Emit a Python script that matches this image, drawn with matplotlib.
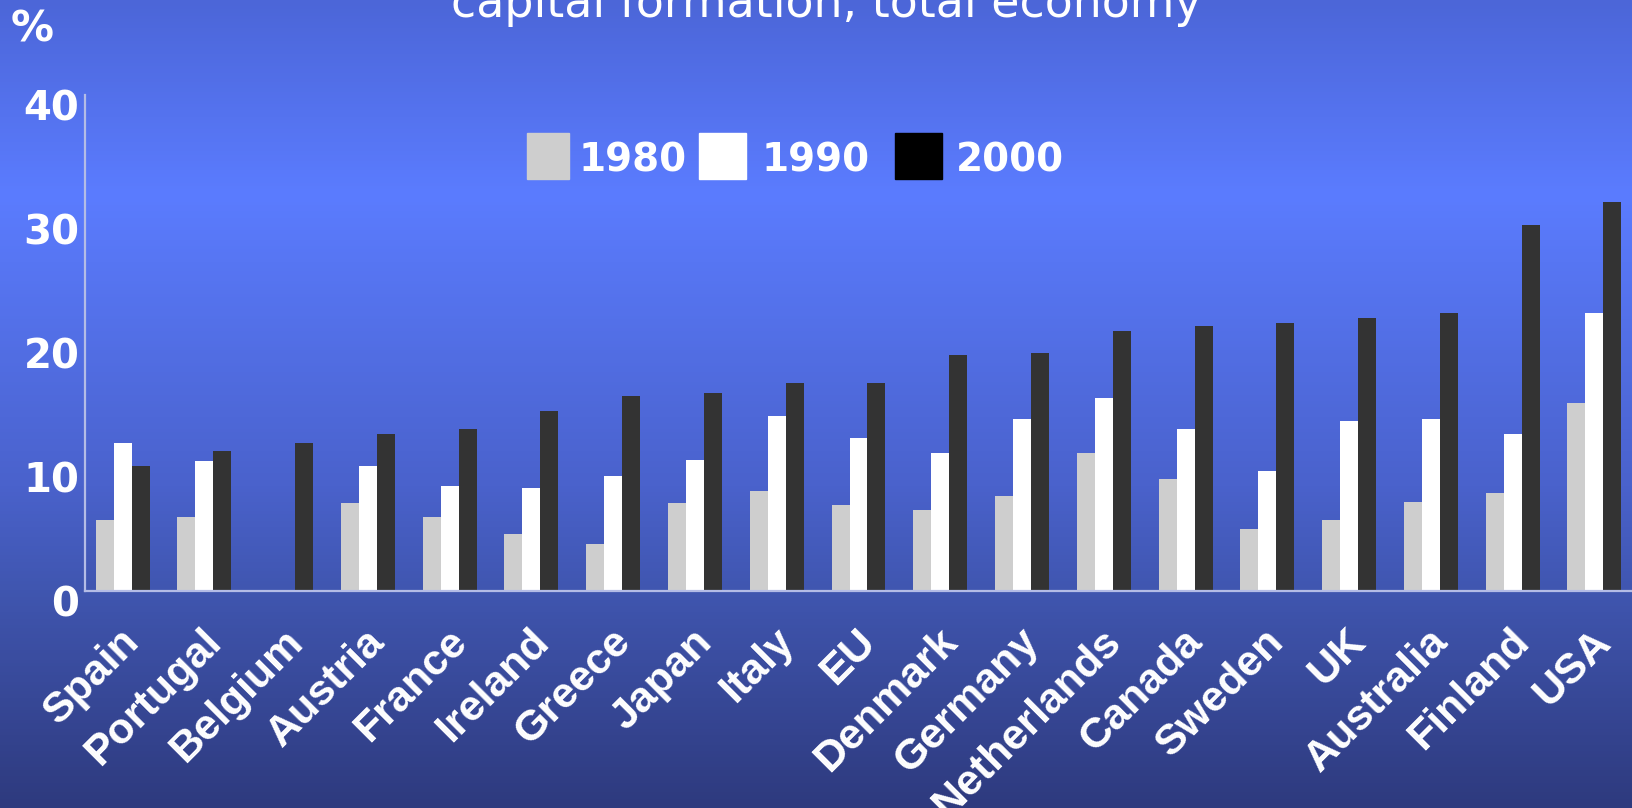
import numpy as np
import matplotlib
matplotlib.use("Agg")
from matplotlib import pyplot as plt
from matplotlib import font_manager
from matplotlib import transforms
from matplotlib.colors import LinearSegmentedColormap
from matplotlib.patches import Rectangle

countries = ["Spain", "Portugal", "Belgium", "Austria", "France", "Ireland",
             "Greece", "Japan", "Italy", "EU", "Denmark", "Germany",
             "Netherlands", "Canada", "Sweden", "UK", "Australia", "Finland", "USA"]
share_1980 = [5.7, 6.0, np.nan, 7.1, 6.0, 4.6, 3.8, 7.1, 8.1, 6.9, 6.5, 7.7,
              11.1, 9.0, 5.0, 5.7, 7.2, 7.9, 15.2]
share_1990 = [11.9, 10.5, np.nan, 10.1, 8.5, 8.3, 9.3, 10.6, 14.1, 12.3, 11.1, 13.9,
              15.6, 13.1, 9.7, 13.7, 13.9, 12.7, 22.4]
share_2000 = [10.1, 11.3, 11.9, 12.7, 13.1, 14.5, 15.7, 16.0, 16.8, 16.8, 19.0, 19.2,
              21.0, 21.4, 21.6, 22.0, 22.4, 29.5, 31.4]
years = ["1980", "1990", "2000"]
y_ticks = [0, 10, 20, 30, 40]
title = "capital formation, total economy"


def pick_font(names, fallback="DejaVu Sans"):
    installed = {f.name for f in font_manager.fontManager.ttflist}
    for n in names:
        if n in installed:
            return n
    return fallback


arial = pick_font(["Liberation Sans", "Arimo"])

W, H = 1632, 808
fig = plt.figure(figsize=(W / 100, H / 100), dpi=100)

# background gradient
bg = fig.add_axes([0, 0, 1, 1])
bg_cmap = LinearSegmentedColormap.from_list(
    "bg", [(0.0, "#4c66d8"), (0.24, "#5b7cff"), (0.6, "#4a62cc"),
           (0.73, "#4056b0"), (1.0, "#2e3a7e")])
grad = np.linspace(0, 1, 256).reshape(-1, 1)
bg.imshow(grad, aspect="auto", cmap=bg_cmap, extent=[0, 1, 0, 1], origin="upper")
bg.set_axis_off()

ax = fig.add_axes([85 / W, (H - 591) / H, 1 - 85 / W, (591 - 95) / H])
ax.patch.set_alpha(0)

x = np.arange(len(countries))
w = 0.22
colors = ["#cecece", "#ffffff", "#333333"]
for i, vals in enumerate([share_1980, share_1990, share_2000]):
    ax.bar(x + (i - 1) * w, vals, width=w, color=colors[i], linewidth=0, zorder=2)

ax.set_xlim(-0.46, len(countries) - 0.54)
ax.set_ylim(0, 40)
ax.set_yticks(y_ticks)
ax.set_yticklabels([str(t) for t in y_ticks], fontsize=29, fontweight="bold",
                   color="white", family="DejaVu Sans")
ax.tick_params(axis="y", length=0, pad=4)
shift = transforms.ScaledTranslation(0, -0.10, fig.dpi_scale_trans)
for lab in ax.get_yticklabels():
    lab.set_transform(lab.get_transform() + shift)

ax.set_xticks(x - 0.04)
ax.set_xticklabels(countries, rotation=45, ha="right", va="top",
                   rotation_mode="anchor", fontsize=31, fontweight="bold",
                   color="white", family=arial)
ax.tick_params(axis="x", length=0, pad=22)

for s in ["top", "right"]:
    ax.spines[s].set_visible(False)
for s in ["left", "bottom"]:
    ax.spines[s].set_color("#b4bce6")
    ax.spines[s].set_linewidth(1.6)

fig.text(32 / W, 1 - 30 / H, "%", fontsize=31, fontweight="bold", color="white",
         ha="center", va="center", family="DejaVu Sans")
fig.text(826 / W, 1 - 17 / H, title, fontsize=33, color="white",
         ha="center", va="baseline", family="DejaVu Sans")

# legend drawn as figure patches
swatches = [(527, 569), (699, 746), (895, 942)]
text_x = [579, 762, 956]
legend_colors = ["#cecece", "#ffffff", "#000000"]
for (x0, x1), tx, c, lab in zip(swatches, text_x, legend_colors, years):
    fig.patches.append(Rectangle((x0 / W, 1 - 179 / H), (x1 - x0) / W, 46 / H,
                                 transform=fig.transFigure, color=c, zorder=5))
    fig.text(tx / W, 1 - 160 / H, lab, fontsize=28, fontweight="bold", color="white",
             ha="left", va="center", family="DejaVu Sans")

fig.savefig("out.png", dpi=100)
